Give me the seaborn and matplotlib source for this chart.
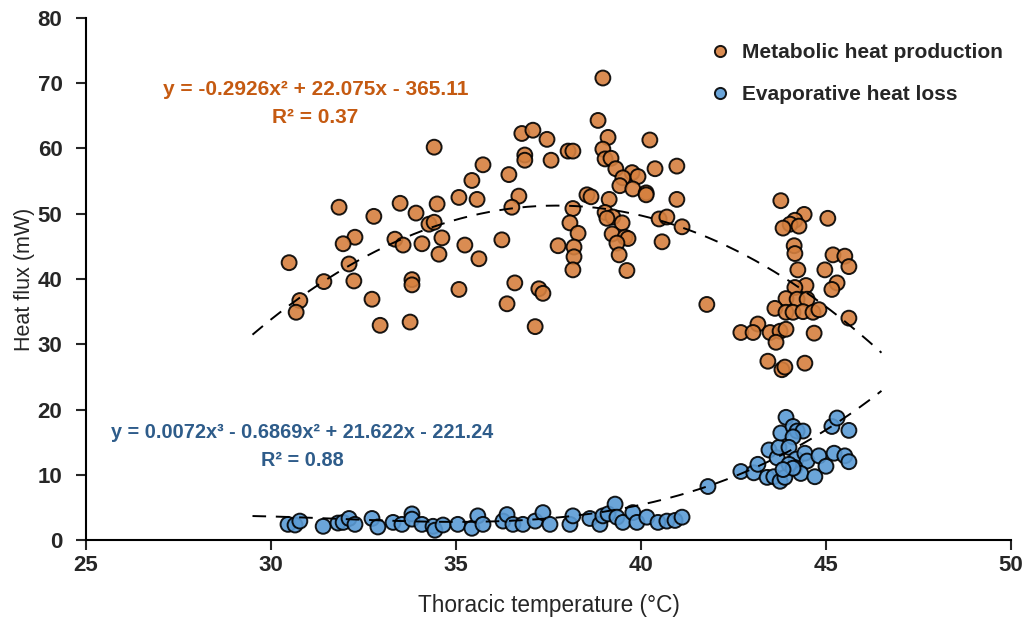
import numpy as np
import pandas as pd
import seaborn as sns
import matplotlib.pyplot as plt

# Metabolic heat production (orange)
metab_temp = [34.41, 31.84, 33.49, 34.49, 35.08, 35.57, 35.73, 35.43, 36.43, 36.78, 36.86, 36.86, 36.70, 36.51,
              32.78, 33.92, 34.27, 34.41, 32.27, 31.95, 33.35, 33.57, 34.08, 34.62, 35.24, 36.24, 34.54, 35.62,
              30.49, 32.11, 31.43, 32.24, 33.81, 33.81, 36.59, 35.08, 30.78, 30.68, 32.73, 36.38, 32.95, 33.76,
              38.97, 38.84, 37.08, 37.46, 39.11, 40.24, 37.57, 38.03, 38.16, 38.97, 39.03, 39.19, 39.32, 39.76,
              39.51, 39.92, 40.38, 40.97, 39.43, 39.78, 40.14, 40.14, 38.54, 38.65, 39.14, 40.97, 38.16, 39.03,
              39.24, 39.49, 39.08, 40.49, 40.70, 41.11, 38.08, 38.30, 39.22, 39.57, 39.65, 40.57, 37.76, 38.19,
              39.35, 38.19, 39.41, 38.16, 39.62, 37.24, 37.35, 37.14, 41.78,
              43.78, 44.41, 44.16, 44.03, 43.84, 44.27, 45.05, 44.14, 44.16, 45.19, 45.51, 45.62, 44.24, 44.97,
              45.30, 45.16, 44.46, 44.16, 43.92, 44.22, 44.49, 43.62, 43.92, 44.11, 44.38, 44.65, 44.81, 45.62,
              43.16, 42.70, 43.03, 43.49, 43.76, 43.92, 44.68, 43.65, 43.43, 43.81, 43.89, 44.43]
metab_flux = [60.2, 51.0, 51.6, 51.5, 52.5, 52.2, 57.5, 55.1, 56.0, 62.3, 59.0, 58.2, 52.7, 51.0,
              49.6, 50.1, 48.4, 48.7, 46.4, 45.4, 46.1, 45.2, 45.4, 46.3, 45.2, 46.0, 43.8, 43.1,
              42.5, 42.3, 39.6, 39.7, 39.9, 39.1, 39.4, 38.4, 36.7, 34.9, 36.9, 36.2, 32.9, 33.4,
              70.8, 64.3, 62.8, 61.4, 61.7, 61.3, 58.2, 59.6, 59.6, 59.9, 58.4, 58.5, 56.9, 56.3,
              55.5, 55.7, 56.9, 57.3, 54.3, 53.8, 53.2, 52.9, 52.9, 52.6, 52.2, 52.2, 50.8, 50.2,
              49.5, 48.6, 49.3, 49.2, 49.5, 48.0, 48.6, 47.0, 46.9, 46.4, 46.2, 45.7, 45.1, 44.9,
              45.5, 43.4, 43.7, 41.4, 41.3, 38.5, 37.8, 32.7, 36.1,
              52.0, 49.9, 49.0, 48.4, 47.8, 48.1, 49.3, 45.1, 43.9, 43.7, 43.5, 41.9, 41.4, 41.4,
              39.4, 38.4, 39.0, 38.7, 37.0, 36.9, 36.9, 35.5, 34.9, 34.9, 35.0, 34.9, 35.3, 34.0,
              33.1, 31.8, 31.8, 31.8, 32.0, 32.3, 31.7, 30.3, 27.4, 26.1, 26.5, 27.1]

# Evaporative heat loss (blue)
evap_temp = [30.46, 30.65, 30.78, 31.41, 31.81, 31.95, 32.11, 32.27, 32.73, 32.89, 33.30, 33.54, 33.81, 33.81,
             34.08, 34.38, 34.43, 34.65, 35.05, 35.43, 35.59, 35.73, 36.27, 36.38, 36.54, 36.81, 37.14, 37.35,
             37.54, 38.08, 38.16, 38.62, 38.89, 38.97, 39.11, 39.30, 39.35, 39.51, 39.78, 39.89, 40.16, 40.46,
             40.70, 40.92, 41.11, 41.81,
             42.70, 43.05, 43.16, 43.41, 43.59, 43.76, 43.89, 43.46, 43.68, 43.73, 43.78, 43.92, 44.11, 44.22,
             44.38, 44.11, 44.00, 44.19, 44.43, 44.49, 44.16, 44.32, 44.00, 44.11, 43.84, 44.70, 44.81, 45.00,
             45.22, 45.16, 45.30, 45.62, 45.51, 45.62]
evap_flux = [2.4, 2.3, 2.9, 2.1, 2.6, 2.7, 3.3, 2.4, 3.3, 2.0, 2.7, 2.4, 4.0, 3.2,
             2.4, 2.1, 1.5, 2.3, 2.4, 1.8, 3.7, 2.4, 2.9, 3.9, 2.4, 2.4, 2.9, 4.2,
             2.4, 2.4, 3.7, 3.3, 2.4, 3.7, 4.0, 5.5, 3.5, 2.7, 4.2, 2.7, 3.5, 2.7,
             2.9, 3.0, 3.5, 8.2,
             10.5, 10.3, 11.6, 9.6, 9.7, 9.0, 9.6, 13.8, 12.6, 14.2, 16.4, 18.8, 17.4, 16.7,
             16.7, 15.8, 14.2, 12.4, 13.3, 12.1, 11.1, 10.2, 11.6, 11.0, 10.8, 9.7, 12.9, 11.3,
             13.3, 17.4, 18.7, 16.8, 12.9, 12.0]

series_names = ["Metabolic heat production", "Evaporative heat loss"]
marker_colors = ["#D6803F", "#5B9BD5"]
text_colors = ["#C55A11", "#2E5C8A"]

# polynomial trendline coefficients (highest power first)
metab_coef = [-0.2926, 22.075, -365.11]
evap_coef = [0.0072, -0.6869, 21.622, -221.24]

df = pd.DataFrame({
    "temp": metab_temp + evap_temp,
    "flux": metab_flux + evap_flux,
    "series": [series_names[0]] * len(metab_temp) + [series_names[1]] * len(evap_temp),
})

sns.set_style("ticks")
plt.rcParams["font.family"] = ["Liberation Sans", "DejaVu Sans"]

fig = plt.figure(figsize=(10.25, 6.22), dpi=100)
ax = fig.add_axes([0.0839, 0.1318, 0.9024, 0.8393])

sns.scatterplot(data=df, x="temp", y="flux", hue="series", palette=marker_colors,
                s=115, edgecolor="black", linewidth=1.4, alpha=0.9, ax=ax, zorder=3)

xs = np.linspace(29.5, 46.5, 200)
ax.plot(xs, np.polyval(metab_coef, xs), color="black", lw=1.4, ls=(0, (7, 5)), zorder=4)
ax.plot(xs, np.polyval(evap_coef, xs), color="black", lw=1.4, ls=(0, (7, 5)), zorder=4)

ax.text(31.2, 66.9, "y = -0.2926x² + 22.075x - 365.11\nR² = 0.37", color=text_colors[0],
        fontsize=15, fontweight="bold", ha="center", va="center", multialignment="center",
        linespacing=1.55)
ax.text(30.85, 14.4, "y = 0.0072x³ - 0.6869x² + 21.622x - 221.24\nR² = 0.88", color=text_colors[1],
        fontsize=14.3, fontweight="bold", ha="center", va="center", multialignment="center",
        linespacing=1.6)

ax.set_xlim(25, 50)
ax.set_ylim(0, 80)
ax.set_xticks([25, 30, 35, 40, 45, 50])
ax.set_yticks(range(0, 81, 10))
ax.tick_params(axis="both", direction="out", length=7, width=1.5, labelsize=16)
ax.tick_params(axis="y", pad=10)
for lab in ax.get_xticklabels() + ax.get_yticklabels():
    lab.set_fontweight("bold")
for side in ["top", "right"]:
    ax.spines[side].set_visible(False)
for side in ["left", "bottom"]:
    ax.spines[side].set_linewidth(1.5)
    ax.spines[side].set_color("black")

ax.set_xlabel("Thoracic temperature (°C)", fontsize=16.3, labelpad=13)
ax.set_ylabel("Heat flux (mW)", fontsize=15.5, labelpad=2)

leg = ax.legend(loc="upper right", frameon=False, fontsize=15, markerscale=0.75,
                handletextpad=0.05, labelspacing=1.1, borderaxespad=0.0,
                bbox_to_anchor=(1.0, 0.968))
for t in leg.get_texts():
    t.set_fontweight("bold")

fig.savefig("out.png", dpi=100)
